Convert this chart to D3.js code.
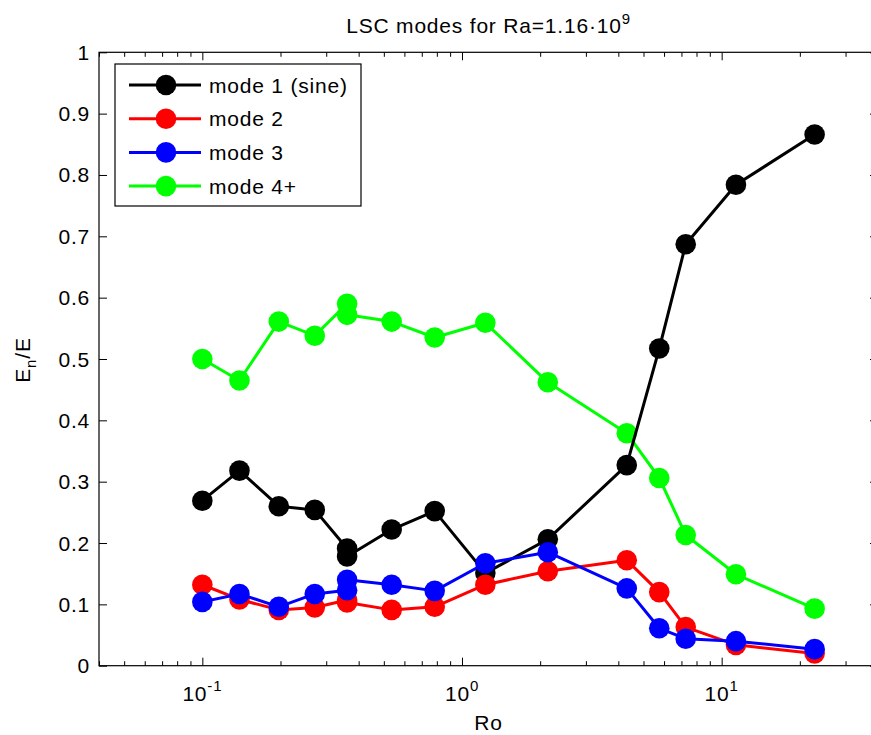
<!DOCTYPE html>
<html>
<head>
<meta charset="utf-8">
<script src="https://cdn.jsdelivr.net/npm/d3@7"></script>
<style>
    body { margin: 0; background: #fff; }
    svg text { font-family: "Liberation Sans", Arial, Helvetica, sans-serif; fill: #000; }
</style>
</head>
<body>
<div id="chart"></div>
<script>
// DATA

const ro = [0.1, 0.139, 0.197, 0.271, 0.361, 0.361, 0.536, 0.785, 1.23, 2.14, 4.31, 5.75, 7.27, 11.35, 22.8];

const mode1 = [0.269, 0.318, 0.260, 0.254, 0.191, 0.178, 0.222, 0.252, 0.151, 0.206, 0.327, 0.517, 0.687, 0.784, 0.866];
const mode2 = [0.132, 0.108, 0.091, 0.095, 0.107, 0.103, 0.091, 0.096, 0.132, 0.154, 0.172, 0.120, 0.063, 0.034, 0.020];
const mode3 = [0.104, 0.117, 0.096, 0.117, 0.123, 0.140, 0.132, 0.122, 0.167, 0.185, 0.126, 0.061, 0.044, 0.040, 0.027];
const mode4 = [0.500, 0.465, 0.561, 0.538, 0.590, 0.572, 0.561, 0.535, 0.559, 0.462, 0.379, 0.306, 0.213, 0.149, 0.093];

const series_names = ['mode 1 (sine)', 'mode 2', 'mode 3', 'mode 4+'];

const x_major = [0.1, 1, 10];
const x_major_exp = ['-1', '0', '1'];
const x_minor = [0.04, 0.05, 0.06, 0.07, 0.08, 0.09, 0.2, 0.3, 0.4, 0.5, 0.6, 0.7, 0.8, 0.9,
    2, 3, 4, 5, 6, 7, 8, 9, 20, 30];
const y_ticks = [0, 0.1, 0.2, 0.3, 0.4, 0.5, 0.6, 0.7, 0.8, 0.9, 1];

//////////////////////////////////////////////

// CONFIG

const width = 871,
    height = 735;

const plot = { left: 99, right: 878, top: 52.3, bottom: 665.7 };

const colors = ['#000000', '#ff0000', '#0000ff', '#00ff00'];
const font_size = 21;

const svg = d3.select('#chart')
    .append('svg')
    .attr('width', width)
    .attr('height', height);

const x_scale = d3.scaleLog()
    .domain([0.04, 40])
    .range([plot.left, plot.right]);

const y_scale = d3.scaleLinear()
    .domain([0, 1])
    .range([plot.bottom, plot.top]);

// AXES (ticks point inward, box on)

const tick_style = (g) => {
    g.select('.domain').remove();
    g.selectAll('line').attr('stroke', '#000').attr('stroke-width', 1);
};

const add_x_ticks = (values, size) => {
    svg.append('g')
        .attr('transform', `translate(0, ${plot.bottom})`)
        .call(d3.axisBottom(x_scale).tickValues(values).tickSize(-size).tickFormat(''))
        .call(tick_style);
    svg.append('g')
        .attr('transform', `translate(0, ${plot.top})`)
        .call(d3.axisTop(x_scale).tickValues(values).tickSize(-size).tickFormat(''))
        .call(tick_style);
};
add_x_ticks(x_major, 8);
add_x_ticks(x_minor, 4.5);

svg.append('g')
    .attr('transform', `translate(${plot.left}, 0)`)
    .call(d3.axisLeft(y_scale).tickValues(y_ticks).tickSize(-8).tickFormat(''))
    .call(tick_style);
svg.append('g')
    .attr('transform', `translate(${plot.right}, 0)`)
    .call(d3.axisRight(y_scale).tickValues(y_ticks).tickSize(-8).tickFormat(''))
    .call(tick_style);

svg.append('rect')
    .attr('x', plot.left)
    .attr('y', plot.top)
    .attr('width', plot.right - plot.left)
    .attr('height', plot.bottom - plot.top)
    .attr('fill', 'none')
    .attr('stroke', '#000')
    .attr('stroke-width', 1.2);

// tick labels
svg.append('g')
    .selectAll('text')
    .data(y_ticks)
    .enter()
    .append('text')
    .attr('x', plot.left - 9)
    .attr('y', (d) => y_scale(d) + 7.5)
    .attr('text-anchor', 'end')
    .style('font-size', `${font_size}px`)
    .style('letter-spacing', '0.8px')
    .text((d) => d3.format('~g')(d));

const x_labels = svg.append('g')
    .selectAll('text')
    .data(x_major)
    .enter()
    .append('text')
    .attr('x', (d) => x_scale(d))
    .attr('y', 701)
    .attr('text-anchor', 'middle')
    .style('font-size', `${font_size}px`)
    .style('letter-spacing', '0.8px');
x_labels.append('tspan').text('10');
x_labels.append('tspan')
    .attr('dy', -10)
    .style('font-size', '15px')
    .text((d, i) => x_major_exp[i]);

svg.append('text')
    .attr('x', (plot.left + plot.right) / 2)
    .attr('y', 730)
    .attr('text-anchor', 'middle')
    .style('font-size', `${font_size}px`)
    .style('letter-spacing', '0.8px')
    .text('Ro');

const y_label = svg.append('text')
    .attr('transform', 'translate(29.5, 360) rotate(-90)')
    .attr('text-anchor', 'middle')
    .style('font-size', `${font_size}px`)
    .style('letter-spacing', '0.8px');
y_label.append('tspan').text('E');
y_label.append('tspan').attr('dy', 6).style('font-size', '15px').text('n');
y_label.append('tspan').attr('dy', -6).text('/E');

const title = svg.append('text')
    .attr('x', (plot.left + plot.right) / 2)
    .attr('y', 33)
    .attr('text-anchor', 'middle')
    .style('font-size', `${font_size}px`)
    .style('letter-spacing', '0.8px');
title.append('tspan').text('LSC modes for Ra=1.16\u00b710');
title.append('tspan').attr('dy', -9).style('font-size', '15px').text('9');

// SERIES

const all_series = [mode1, mode2, mode3, mode4].map((values, i) => ({
    name: series_names[i],
    color: colors[i],
    points: values.map((v, j) => ({ x: ro[j], y: v }))
}));

const line = d3.line()
    .x((d) => x_scale(d.x))
    .y((d) => y_scale(d.y));

// drawing order bottom -> top as seen in the picture
const draw_order = [3, 0, 1, 2];

draw_order.forEach((k) => {
    const s = all_series[k];
    const g = svg.append('g');
    g.append('path')
        .datum(s.points)
        .attr('d', line)
        .attr('fill', 'none')
        .attr('stroke', s.color)
        .attr('stroke-width', 3)
        .attr('stroke-linejoin', 'round');
    g.selectAll('circle')
        .data(s.points)
        .enter()
        .append('circle')
        .attr('cx', (d) => x_scale(d.x))
        .attr('cy', (d) => y_scale(d.y))
        .attr('r', 10.3)
        .attr('fill', s.color);
});

// LEGEND

const legend = svg.append('g');
legend.append('rect')
    .attr('x', 115)
    .attr('y', 64)
    .attr('width', 246)
    .attr('height', 142)
    .attr('fill', '#fff')
    .attr('stroke', '#000')
    .attr('stroke-width', 1.2);

const entries = legend.selectAll('g.entry')
    .data(all_series)
    .enter()
    .append('g')
    .attr('class', 'entry')
    .attr('transform', (d, i) => `translate(0, ${85 + i * 33.7})`);

entries.append('line')
    .attr('x1', 129)
    .attr('x2', 201)
    .attr('stroke', (d) => d.color)
    .attr('stroke-width', 3);
entries.append('circle')
    .attr('cx', 166)
    .attr('r', 10.3)
    .attr('fill', (d) => d.color);
entries.append('text')
    .attr('x', 209)
    .attr('y', 7.5)
    .style('font-size', `${font_size}px`)
    .style('letter-spacing', '0.8px')
    .text((d) => d.name);
</script>
</body>
</html>
